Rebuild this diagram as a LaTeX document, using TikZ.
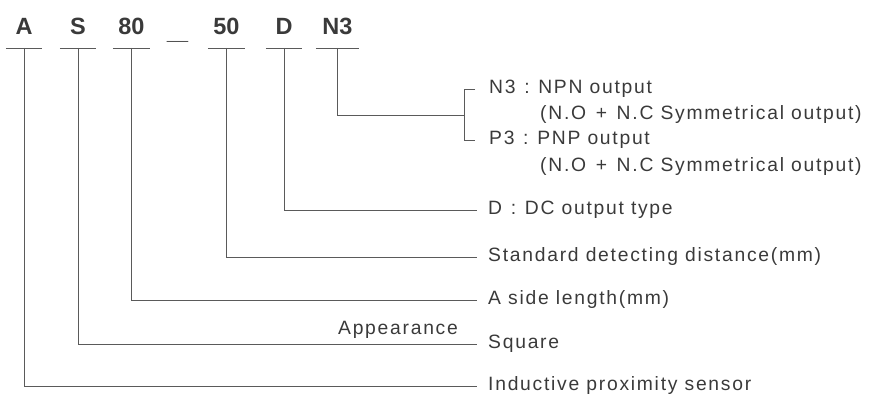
\documentclass[tikz,border=0pt]{standalone}
\usepackage{fontspec}
\setmainfont{Liberation Sans}
\newfontfamily\lblfont[LetterSpace=9]{Liberation Sans}
\definecolor{inkc}{HTML}{3A3A3A}
\definecolor{linec}{HTML}{5A5A5A}
\newcommand{\csep}{\hspace{0.45em}:\hspace{0.45em}}
\newcommand{\psep}{\hspace{0.5em}+\hspace{0.5em}}
\begin{document}
\begin{tikzpicture}[x=1pt,y=-1pt,
  code/.style={font=\fontsize{23.5}{26}\selectfont\bfseries, text=inkc, inner sep=0pt, anchor=base},
  uline/.style={draw=linec, line width=0.9pt},
  conn/.style={draw=linec, line width=0.8pt},
  lbl/.style={font=\fontsize{19.3}{21}\lblfont, text=inkc, inner ysep=0pt, inner xsep=11pt, anchor=west},
  sub/.style={font=\fontsize{19.3}{21}\lblfont, text=inkc, inner sep=0pt, anchor=west}]
\useasboundingbox (0,0) rectangle (875,396);
% code letters
\node[code,minimum width=36pt] (cA)  at (24,35)  {A};
\node[code,minimum width=36pt] (cS)  at (78,35)  {S};
\node[code,minimum width=37pt] (c80) at (131.5,35) {80};
\node[code,xscale=1.6] (cdash) at (177.5,40) {\_};
\node[code,minimum width=37pt] (c50) at (226.5,35) {50};
\node[code,minimum width=36pt] (cD)  at (284,35) {D};
\node[code,minimum width=43pt] (cN)  at (337.5,35) {N3};
% underlines
\foreach \n in {cA,cS,c80,c50,cD,cN}
  \draw[uline] (\n.west |- 0,48) -- (\n.east |- 0,48);
% labels
\node[lbl,inner xsep=14pt] (n3) at (475,89) {N3\csep NPN output};
\node[sub] (n3b) at (540,115) {(N.O\psep N.C Symmetrical output)};
\node[lbl,inner xsep=14pt] (p3) at (475,140) {P3\csep PNP output};
\node[sub] (p3b) at (540,167) {(N.O\psep N.C Symmetrical output)};
\node[lbl] (dc)  at (477,210) {D\csep DC output type};
\node[lbl] (std) at (477,257) {Standard detecting distance(mm)};
\node[lbl] (side) at (477,300) {A side length(mm)};
\node[lbl] (sq)  at (477,344) {Square};
\node[lbl] (ind) at (477,386) {Inductive proximity sensor};
\node[font=\fontsize{19.3}{21}\lblfont, text=inkc, inner sep=0pt] (app) at (398,330) {Appearance};
% bracket
\coordinate (br) at (464,115);
\draw[conn] (n3.west) -- (464,89) -- (464,140) -- (p3.west);
% connectors
\draw[conn] (cN.base |- 0,48) |- (br);
\draw[conn] (cD.base |- 0,48) |- (dc.west);
\draw[conn] (c50.base |- 0,48) |- (std.west);
\draw[conn] (c80.base |- 0,48) |- (side.west);
\draw[conn] (cS.base |- 0,48) |- (sq.west);
\draw[conn] (cA.base |- 0,48) |- (ind.west);
\end{tikzpicture}
\end{document}
